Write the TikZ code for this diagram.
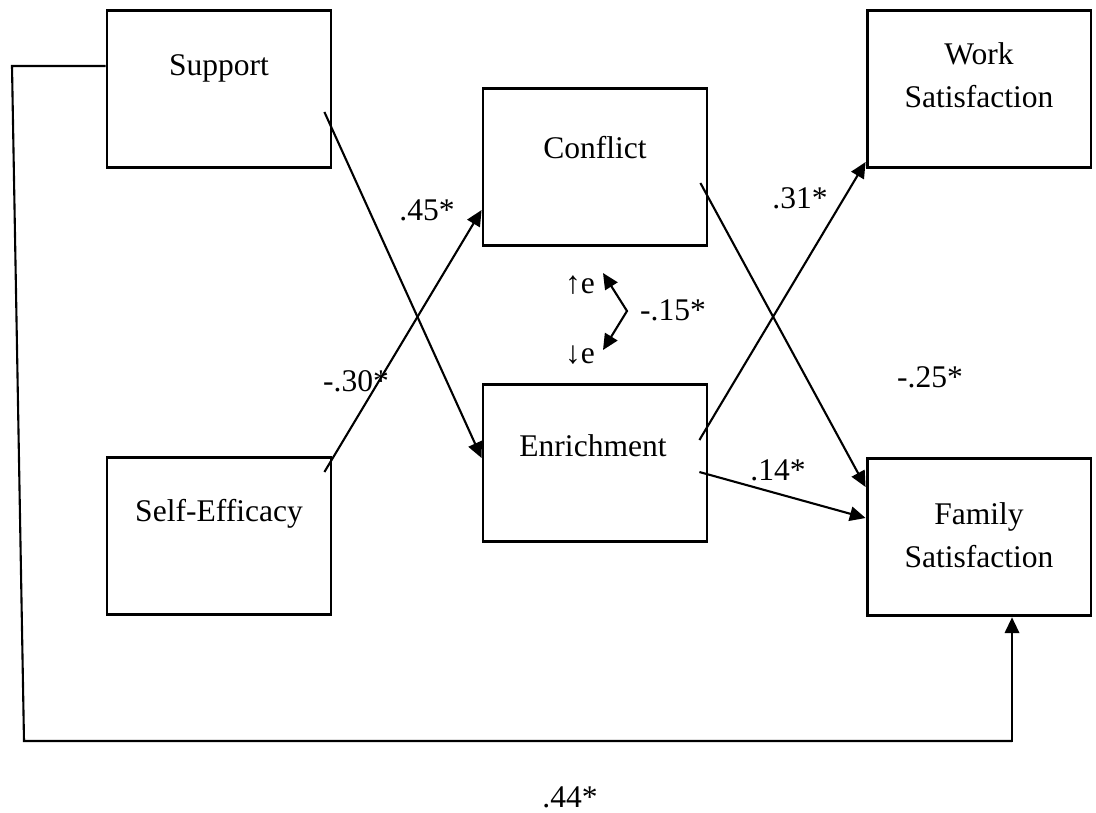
\documentclass[tikz,border=0pt]{standalone}
\usepackage{fontspec}
\setmainfont{Liberation Serif}
\usetikzlibrary{arrows.meta,calc}
\begin{document}
\begin{tikzpicture}[x=0.3805pt,y=-0.3805pt,
  box/.style={draw,line width=1.1pt,minimum width=85.2pt,minimum height=60pt,inner sep=0pt},
  txt/.style={font=\fontsize{12}{16.5}\selectfont,align=center,inner sep=0pt},
  tip/.style={Triangle[length=6pt,width=5.5pt]},
  conn/.style={line width=0.8pt,-{Triangle[length=6pt,width=5.5pt]}},
  plain/.style={line width=0.8pt}]
\useasboundingbox (0,0) rectangle (1096,812);
% boxes
\node[box] (support) at (219,89) {};
\node[box] (conflict) at (595,167) {};
\node[box] (work) at (979,89) {};
\node[box] (selfeff) at (219,536) {};
\node[box] (enrich) at (595,463) {};
\node[box] (family) at (979,537) {};
% box texts
\node[txt] (supportT) at (219,68) {Support};
\node[txt] (conflictT) at (595,148) {Conflict};
\node[txt] (workT) at (979,75) {Work\\Satisfaction};
\node[txt] (selfeffT) at (219,514) {Self-Efficacy};
\node[txt] (enrichT) at (593,446) {Enrichment};
\node[txt] (familyT) at (979,535) {Family\\Satisfaction};
% connectors
\draw[conn] ($(support.east)+(-8,23)$) -- ($(enrich.west)+(0,-5)$);
\draw[conn] ($(selfeff.east)+(-8,-64)$) -- ($(conflict.west)+(0,43)$);
\draw[conn] ($(conflict.east)+(-8,16)$) -- ($(family.west)+(0,-50)$);
\draw[conn] ($(enrich.east)+(-9,-23)$) -- ($(work.west)+(0,73)$);
\draw[conn] ($(enrich.east)+(-9,9)$) -- ($(family.west)+(0,-19)$);
% long bracket path
\coordinate (b1) at (12,66);
\coordinate (b2) at (24,741);
\coordinate (b3) at (1012,741);
\draw[plain] ($(support.west)+(0,-23)$) -- (b1) -- (b2) -- (b3);
\draw[conn] ([yshift=-0.4pt]b3) -- (b3 |- family.south);
% error covariance
\coordinate (etop) at (603,273);
\coordinate (evert) at (627,311);
\coordinate (ebot) at (603,350);
\draw[line width=0.8pt,{Triangle[length=6pt,width=5.5pt]}-{Triangle[length=6pt,width=5.5pt]}] (etop) -- (evert) -- (ebot);
% labels
\node[txt] (l45) at (427,210) {.45*};
\node[txt] (l30) at (356,381) {-.30*};
\node[txt] (l31) at (800,198) {.31*};
\node[txt] (l25) at (930,377) {-.25*};
\node[txt] (l14) at (778,470) {.14*};
\node[txt] (l15) at (673,310) {-.15*};
\node[txt] (eup) at (580,285) {↑e};
\node[txt] (edown) at (580,355) {↓e};
\node[txt] (l44) at (570,797) {.44*};
\end{tikzpicture}
\end{document}
